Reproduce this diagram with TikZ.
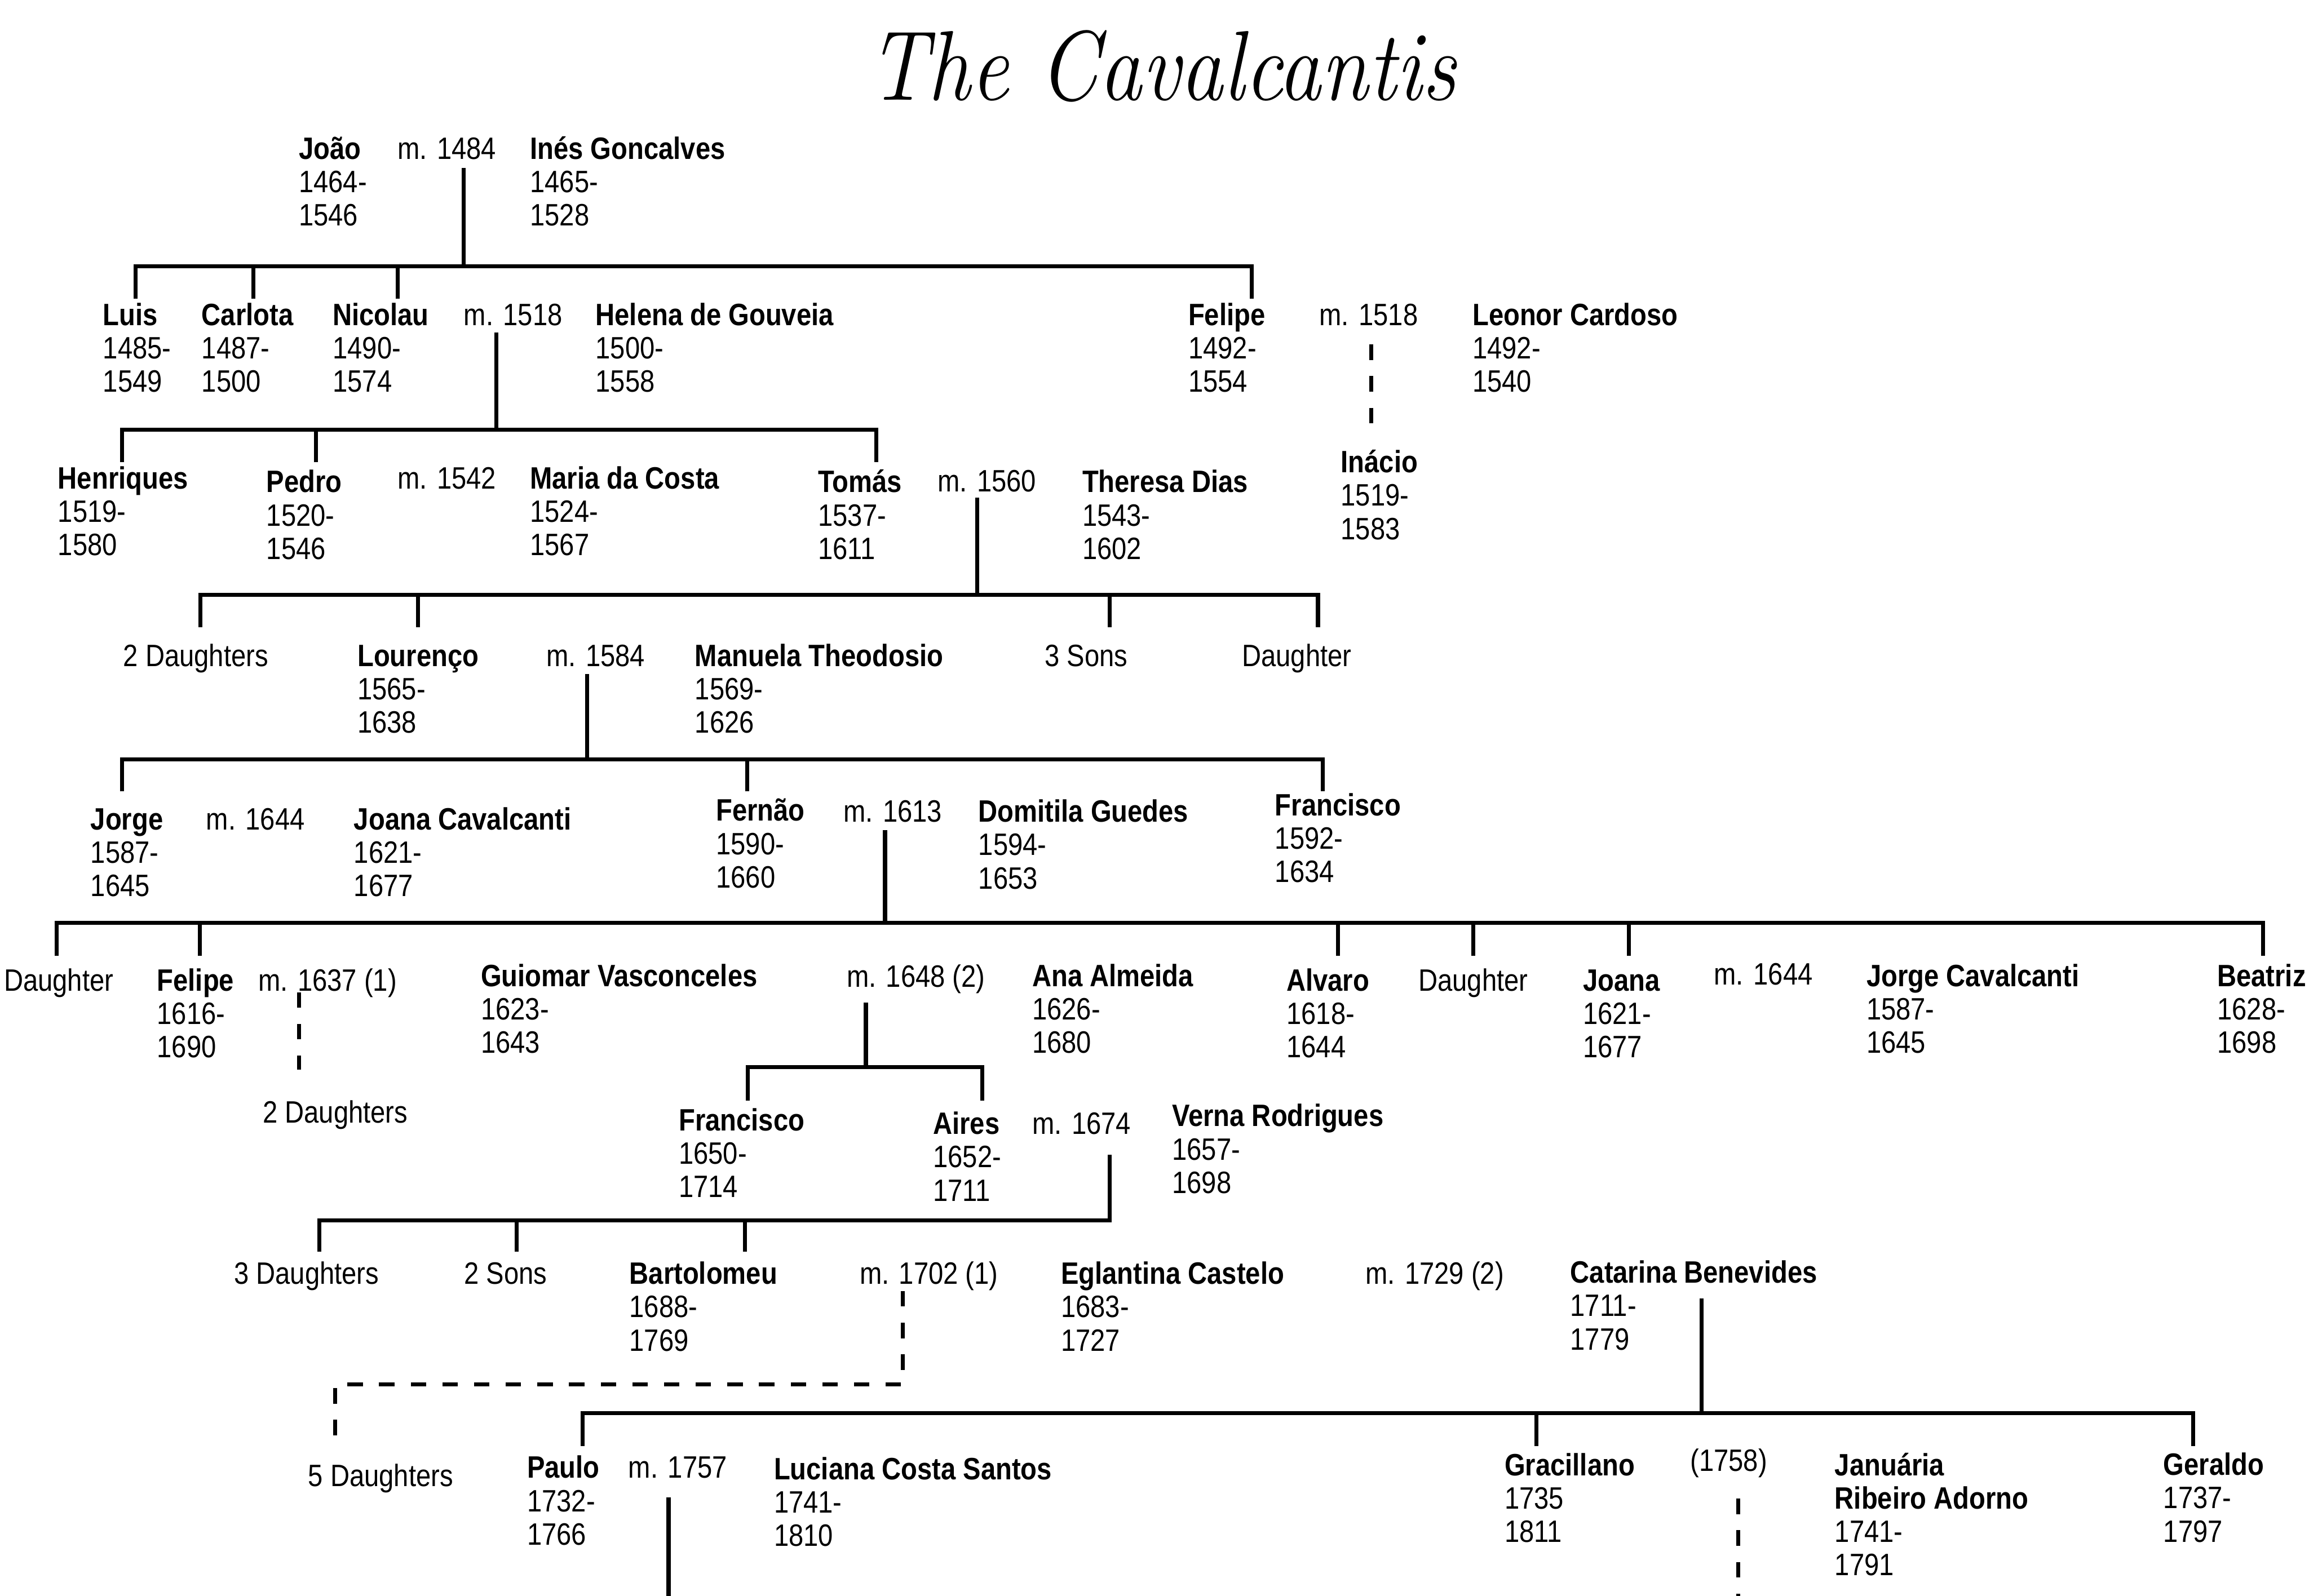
\documentclass[tikz,border=0pt]{standalone}
\usepackage{fontspec}
\usepackage{graphicx}
\newfontfamily\nar[FakeStretch=0.86]{Liberation Sans}
\begin{document}
\begin{tikzpicture}[x=1pt,y=-1pt,
  pn/.style={anchor=base west, inner sep=0pt, outer sep=0pt, align=left,
    font=\nar\fontsize{21}{22.7}\selectfont},
  p3/.style={pn, yshift=-45.4pt},
  p4/.style={pn, yshift=-68.1pt},
  ln/.style={line width=2.7pt},
  dl/.style={line width=2.7pt, dash pattern=on 10.5pt off 11pt}]
\useasboundingbox (0,0) rectangle (1568,1084);
\fill[white] (0,0) rectangle (1568,1084);

\node[anchor=base, inner sep=0pt] (title) at (789,68)
  {\scalebox{0.88}[1.02]{\fontsize{66}{66}\selectfont\itshape The Cavalcantis}};

% ---------- generation 1
\node[p3] (joao) at (203,108) {\textbf{João}\\1464-\\1546};
\node[pn] (m1484) at (270,108) {m. 1484};
\node[p3] (ines) at (360,108) {\textbf{Inés Goncalves}\\1465-\\1528};

% ---------- generation 2
\node[p3] (luis) at (70,221) {\textbf{Luis}\\1485-\\1549};
\node[p3] (carlota) at (137,221) {\textbf{Carlota}\\1487-\\1500};
\node[p3] (nicolau) at (226,221) {\textbf{Nicolau}\\1490-\\1574};
\node[pn] (m1518a) at (315,221) {m. 1518};
\node[p3] (helena) at (404.5,221) {\textbf{Helena de Gouveia}\\1500-\\1558};
\node[p3] (felipeA) at (807,221) {\textbf{Felipe}\\1492-\\1554};
\node[pn] (m1518b) at (896,221) {m. 1518};
\node[p3] (leonor) at (1000,221) {\textbf{Leonor Cardoso}\\1492-\\1540};
\node[p3] (inacio) at (910.6,321) {\textbf{Inácio}\\1519-\\1583};

% ---------- generation 3
\node[p3] (henriques) at (39.4,332) {\textbf{Henriques}\\1519-\\1580};
\node[p3] (pedro) at (181,334.5) {\textbf{Pedro}\\1520-\\1546};
\node[pn] (m1542) at (270,332) {m. 1542};
\node[p3] (maria) at (360,332) {\textbf{Maria da Costa}\\1524-\\1567};
\node[p3] (tomas) at (555.6,334.5) {\textbf{Tomás}\\1537-\\1611};
\node[pn] (m1560) at (636.7,334) {m. 1560};
\node[p3] (theresa) at (735,334.5) {\textbf{Theresa Dias}\\1543-\\1602};

% ---------- generation 4
\node[pn] (dau2a) at (83.8,452.5) {2 Daughters};
\node[p3] (lourenco) at (242.8,452.5) {\textbf{Lourenço}\\1565-\\1638};
\node[pn] (m1584) at (371,452.5) {m. 1584};
\node[p3] (manuela) at (472,452.5) {\textbf{Manuela Theodosio}\\1569-\\1626};
\node[pn] (sons3) at (709.6,452.5) {3 Sons};
\node[pn] (daua) at (843.5,452.5) {Daughter};

% ---------- generation 5
\node[p3] (jorge) at (61.6,563.5) {\textbf{Jorge}\\1587-\\1645};
\node[pn] (m1644a) at (140,563.5) {m. 1644};
\node[p3] (joanaC) at (240.4,563.5) {\textbf{Joana Cavalcanti}\\1621-\\1677};
\node[p3] (fernao) at (486.3,557.7) {\textbf{Fernão}\\1590-\\1660};
\node[pn] (m1613) at (572.8,558.4) {m. 1613};
\node[p3] (domitila) at (664.5,558.4) {\textbf{Domitila Guedes}\\1594-\\1653};
\node[p3] (franciscoA) at (865.9,554) {\textbf{Francisco}\\1592-\\1634};

% ---------- generation 6
\node[pn] (daub) at (2.7,673) {Daughter};
\node[p3] (felipeB) at (106.7,673) {\textbf{Felipe}\\1616-\\1690};
\node[pn] (m1637) at (175.4,673) {m. 1637 (1)};
\node[p3] (guiomar) at (326.6,670) {\textbf{Guiomar Vasconceles}\\1623-\\1643};
\node[pn] (m1648) at (575,670.6) {m. 1648 (2)};
\node[p3] (ana) at (701,670) {\textbf{Ana Almeida}\\1626-\\1680};
\node[p3] (alvaro) at (873.7,673) {\textbf{Alvaro}\\1618-\\1644};
\node[pn] (dauc) at (963.3,673) {Daughter};
\node[p3] (joana) at (1075,673) {\textbf{Joana}\\1621-\\1677};
\node[pn] (m1644b) at (1164,669) {m. 1644};
\node[p3] (jorgeC) at (1267.5,670) {\textbf{Jorge Cavalcanti}\\1587-\\1645};
\node[p3] (beatriz) at (1505.7,670) {\textbf{Beatriz}\\1628-\\1698};
\node[pn] (dau2b) at (178.5,762.8) {2 Daughters};

% ---------- generation 7
\node[p3] (franciscoB) at (461,768) {\textbf{Francisco}\\1650-\\1714};
\node[p3] (aires) at (633.7,770.4) {\textbf{Aires}\\1652-\\1711};
\node[pn] (m1674) at (701,770.4) {m. 1674};
\node[p3] (verna) at (796,765.2) {\textbf{Verna Rodrigues}\\1657-\\1698};

% ---------- generation 8
\node[pn] (dau3) at (159,872.2) {3 Daughters};
\node[pn] (sons2) at (315.3,872.2) {2 Sons};
\node[p3] (bartolomeu) at (427.5,872.2) {\textbf{Bartolomeu}\\1688-\\1769};
\node[pn] (m1702) at (583.8,872.2) {m. 1702 (1)};
\node[p3] (eglantina) at (720.5,872.2) {\textbf{Eglantina Castelo}\\1683-\\1727};
\node[pn] (m1729) at (927.3,872.2) {m. 1729 (2)};
\node[p3] (catarina) at (1066.4,871.5) {\textbf{Catarina Benevides}\\1711-\\1779};
\node[pn] (dau5) at (209.3,1009.7) {5 Daughters};

% ---------- generation 9
\node[p3] (paulo) at (358,1004) {\textbf{Paulo}\\1732-\\1766};
\node[pn] (m1757) at (426.8,1004) {m. 1757};
\node[p3] (luciana) at (525.6,1005) {\textbf{Luciana Costa Santos}\\1741-\\1810};
\node[p3] (gracillano) at (1021.8,1002.2) {\textbf{Gracillano}\\1735\\1811};
\node[pn] (y1758) at (1147.8,999.2) {(1758)};
\node[p4] (januaria) at (1246,1002.2) {\textbf{Januária}\\\textbf{Ribeiro Adorno}\\1741-\\1791};
\node[p3] (geraldo) at (1469.2,1002) {\textbf{Geraldo}\\1737-\\1797};

% ================= connectors
% family 1: Joao x Ines
\coordinate (f1s) at (315,114);
\coordinate (f1b) at (315,181);
\coordinate (luis-d) at (92,203);
\coordinate (carlota-d) at (172,203);
\coordinate (nicolau-d) at (270,203);
\coordinate (felipeA-d) at (850,203);
\draw[ln] (f1s) -- (f1b);
\draw[ln] (luis-d) |- (felipeA-d |- f1b) -- (felipeA-d);
\foreach \c in {carlota-d,nicolau-d} \draw[ln] (\c) -- (\c |- f1b);

% family 2: Felipe x Leonor (dashed)
\coordinate (f2s) at (931,234);
\coordinate (inacio-u) at (931,288);
\draw[dl] (f2s) -- (inacio-u);

% family 3: Nicolau x Helena
\coordinate (f3s) at (337,226);
\coordinate (f3b) at (337,292);
\coordinate (henriques-d) at (83,314);
\coordinate (pedro-d) at (214.5,314);
\coordinate (tomas-d) at (595,314);
\draw[ln] (f3s) -- (f3b);
\draw[ln] (henriques-d) |- (tomas-d |- f3b) -- (tomas-d);
\draw[ln] (pedro-d) -- (pedro-d |- f3b);

% family 4: Tomas x Theresa
\coordinate (f4s) at (663.5,338);
\coordinate (f4b) at (663.5,404);
\coordinate (dau2a-d) at (136,426);
\coordinate (lourenco-d) at (284,426);
\coordinate (sons3-d) at (753.4,426);
\coordinate (daua-d) at (895,426);
\draw[ln] (f4s) -- (f4b);
\draw[ln] (dau2a-d) |- (daua-d |- f4b) -- (daua-d);
\foreach \c in {lourenco-d,sons3-d} \draw[ln] (\c) -- (\c |- f4b);

% family 5: Lourenco x Manuela
\coordinate (f5s) at (398.7,458);
\coordinate (f5b) at (398.7,516);
\coordinate (jorge-d) at (83,537.6);
\coordinate (fernao-d) at (507.5,537.6);
\coordinate (franciscoA-d) at (898.4,537.6);
\draw[ln] (f5s) -- (f5b);
\draw[ln] (jorge-d) |- (franciscoA-d |- f5b) -- (franciscoA-d);
\draw[ln] (fernao-d) -- (fernao-d |- f5b);

% family 6: Fernao x Domitila
\coordinate (f6s) at (601,564);
\coordinate (f6b) at (601,627);
\coordinate (daub-d) at (38.3,649.4);
\coordinate (felipeB-d) at (135.8,649.4);
\coordinate (alvaro-d) at (908.5,649.4);
\coordinate (dauc-d) at (1000.3,649.4);
\coordinate (joana-d) at (1106.3,649.4);
\coordinate (beatriz-d) at (1536.6,649.4);
\draw[ln] (f6s) -- (f6b);
\draw[ln] (daub-d) |- (beatriz-d |- f6b) -- (beatriz-d);
\foreach \c in {felipeB-d,alvaro-d,dauc-d,joana-d} \draw[ln] (\c) -- (\c |- f6b);

% family 7: Felipe x Guiomar (dashed)
\coordinate (f7s) at (203,674);
\coordinate (dau2b-u) at (203,726.4);
\draw[dl] (f7s) -- (dau2b-u);

% family 8: Felipe x Ana
\coordinate (f8s) at (588,681);
\coordinate (f8b) at (588,725);
\coordinate (franciscoB-d) at (507.8,747.5);
\coordinate (aires-d) at (667,747.5);
\draw[ln] (f8s) -- (f8b);
\draw[ln] (franciscoB-d) |- (aires-d |- f8b) -- (aires-d);

% family 9: Aires x Verna
\coordinate (f9s) at (753.4,784.5);
\coordinate (f9b) at (753.4,829);
\coordinate (dau3-d) at (217,850.3);
\coordinate (sons2-d) at (351,850.3);
\coordinate (bartolomeu-d) at (506,850.3);
\draw[ln] (dau3-d) -- (dau3-d |- f9b) -- (f9b) -- (f9s);
\foreach \c in {sons2-d,bartolomeu-d} \draw[ln] (\c) -- (\c |- f9b);

% family 10: Bartolomeu x Eglantina (dashed)
\coordinate (f10s) at (613,877);
\coordinate (f10b) at (613,940.4);
\coordinate (dau5-u) at (227.4,985);
\draw[dl] (f10s) -- (f10b) -| (dau5-u);

% family 11: Bartolomeu x Catarina
\coordinate (f11s) at (1155.5,882);
\coordinate (f11b) at (1155.5,960);
\coordinate (paulo-d) at (395.7,982.3);
\coordinate (gracillano-d) at (1043.5,982.3);
\coordinate (geraldo-d) at (1489.3,982.3);
\draw[ln] (f11s) -- (f11b);
\draw[ln] (paulo-d) |- (geraldo-d |- f11b) -- (geraldo-d);
\draw[ln] (gracillano-d) -- (gracillano-d |- f11b);

% family 12: Gracillano x Januaria (dashed, continues off page)
\coordinate (f12s) at (1180.3,1018);
\coordinate (f12e) at (1180.3,1084);
\draw[dl] (f12s) -- (f12e);

% family 13: Paulo x Luciana (continues off page)
\coordinate (f13s) at (454,1017);
\coordinate (f13e) at (454,1084);
\draw[ln] (f13s) -- (f13e);
\end{tikzpicture}
\end{document}
